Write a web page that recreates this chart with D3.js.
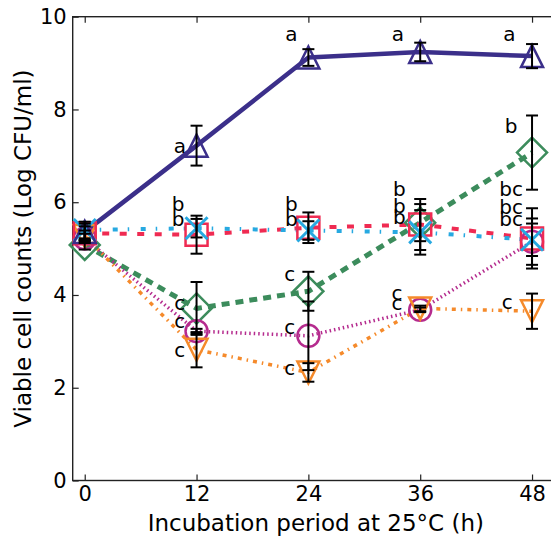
<!DOCTYPE html>
<html>
<head>
<meta charset="utf-8">
<script src="https://cdn.jsdelivr.net/npm/d3@7"></script>
<style>
  html, body { margin: 0; padding: 0; background: #fff; }
  svg { display: block; }
  text { font-family: "DejaVu Sans", sans-serif; fill: #000; }
</style>
</head>
<body>
<svg id="chart" width="551" height="537"></svg>
<script>
// ---- data ----
const hours = [0, 12, 24, 36, 48];
const xTicks = [0, 12, 24, 36, 48];
const yTicks = [0, 2, 4, 6, 8, 10];

const navyVals   = [5.36, 7.22, 9.12, 9.24, 9.15];
const navyErr    = [0.18, 0.43, 0.18, 0.20, 0.26];
const redVals    = [5.33, 5.30, 5.45, 5.52, 5.22];
const redErr     = [0.15, 0.41, 0.33, 0.55, 0.65];
const blueVals   = [5.40, 5.44, 5.39, 5.35, 5.19];
const blueErr    = [0.18, 0.20, 0.20, 0.48, 0.35];
const greenVals  = [5.08, 3.71, 4.08, 5.56, 7.07];
const greenErr   = [0.10, 0.57, 0.42, 0.40, 0.80];
const purpleVals = [5.22, 3.22, 3.12, 3.68, 5.15];
const purpleErr  = [0.10, 0.05, 0.74, 0.05, 0.50];
const orangeVals = [5.27, 2.82, 2.33, 3.71, 3.65];
const orangeErr  = [0.12, 0.38, 0.20, 0.06, 0.38];

// significance letters (x in hours, y in log CFU/ml)
const labelHours = [10.2, 22.18, 33.6, 45.57,
                    10.03, 10.03, 22.18, 22.18, 33.76, 33.76, 33.76,
                    10.2, 10.2, 10.2, 22.0, 22.0, 22.0, 33.5, 33.5,
                    45.75, 45.75, 45.75, 45.75, 45.35];
const labelVals  = [7.2, 9.61, 9.61, 9.61,
                    5.94, 5.62, 5.94, 5.62, 6.27, 5.91, 5.66,
                    3.82, 3.43, 2.81, 4.43, 3.30, 2.42, 4.04, 3.82,
                    7.63, 6.27, 5.89, 5.62, 3.83];
const labelTexts = ["a", "a", "a", "a",
                    "b", "b", "b", "b", "b", "b", "b",
                    "c", "c", "c", "c", "c", "c", "c", "c",
                    "b", "bc", "bc", "bc", "c"];

const xLabel = "Incubation period at 25°C (h)";
const yLabel = "Viable cell counts (Log CFU/ml)";

// ---- series styling (draw order) ----
const series = [
  {vals: greenVals,  err: greenErr,  color: "#3c8c5c", width: 5,   dash: "8,6",            marker: "diamond"},
  {vals: purpleVals, err: purpleErr, color: "#b52b8e", width: 3.5, dash: "1.5,3",          marker: "circle"},
  {vals: orangeVals, err: orangeErr, color: "#f58a2b", width: 3.5, dash: "4,5,1.5,5",      marker: "triDown"},
  {vals: redVals,    err: redErr,    color: "#ef2b52", width: 4,   dash: "7,10.5",         marker: "square"},
  {vals: blueVals,   err: blueErr,   color: "#27a9e1", width: 4,   dash: "5,10,1.5,11.5",  marker: "x"},
  {vals: navyVals,   err: navyErr,   color: "#3b2f8a", width: 4.5, dash: null,             marker: "triUp"}
];

// ---- layout ----
const svg = d3.select("#chart");
const pLeft = 72.7, pRight = 553, pTop = 16.7, pBottom = 480.5;
const x = d3.scaleLinear().domain([-1.29, 50.25]).range([pLeft, pRight]);
const y = d3.scaleLinear().domain([0, 10]).range([pBottom, pTop]);

// spines
svg.append("rect")
  .attr("x", pLeft).attr("y", pTop)
  .attr("width", pRight - pLeft).attr("height", pBottom - pTop)
  .attr("fill", "none").attr("stroke", "#222").attr("stroke-width", 1.4);

// axes with inward ticks
const tickLen = 6;
const xAxisB = d3.axisBottom(x).tickValues(xTicks).tickSizeInner(-tickLen).tickSizeOuter(0).tickPadding(6);
const gxb = svg.append("g").attr("transform", `translate(0,${pBottom})`).call(xAxisB);
const xAxisT = d3.axisTop(x).tickValues(xTicks).tickSizeInner(-tickLen).tickSizeOuter(0).tickFormat("");
const gxt = svg.append("g").attr("transform", `translate(0,${pTop})`).call(xAxisT);
const yAxisL = d3.axisLeft(y).tickValues(yTicks).tickSizeInner(-tickLen).tickSizeOuter(0).tickPadding(6);
const gyl = svg.append("g").attr("transform", `translate(${pLeft},0)`).call(yAxisL);
[gxb, gxt, gyl].forEach(g => {
  g.select(".domain").remove();
  g.selectAll(".tick line").attr("stroke", "#222").attr("stroke-width", 1.2);
  g.selectAll(".tick text").style("font-family", "DejaVu Sans, sans-serif").style("font-size", "21px").attr("fill", "#000");
});

// axis titles
svg.append("text")
  .attr("x", (pLeft + pRight) / 2 + 3).attr("y", 531)
  .attr("text-anchor", "middle").style("font-size", "23px")
  .text(xLabel);
svg.append("text")
  .attr("transform", `translate(31,${(pTop + pBottom) / 2}) rotate(-90)`)
  .attr("text-anchor", "middle").style("font-size", "23px")
  .text(yLabel);

// ---- lines ----
const line = d3.line().x(d => x(d[0])).y(d => y(d[1]));
series.forEach(s => {
  const pts = hours.map((h, i) => [h, s.vals[i]]);
  svg.append("path")
    .attr("d", line(pts))
    .attr("fill", "none")
    .attr("stroke", s.color)
    .attr("stroke-width", s.width)
    .attr("stroke-dasharray", s.dash)
    .attr("stroke-linejoin", "round");
});

// ---- markers ----
function markerPath(type, r) {
  switch (type) {
    case "triUp":   return `M0,${-r}L${r},${r}L${-r},${r}Z`;
    case "triDown": return `M0,${r}L${r},${-r}L${-r},${-r}Z`;
    case "square":  return `M${-r},${-r}H${r}V${r}H${-r}Z`;
    case "diamond": return `M0,${-r}L${r},0L0,${r}L${-r},0Z`;
    case "x":       return `M${-r},${-r}L${r},${r}M${r},${-r}L${-r},${r}`;
    case "circle":  return `M${r},0A${r},${r} 0 1,1 ${-r},0A${r},${r} 0 1,1 ${r},0Z`;
  }
}
const markerSize = {triUp: 11, triDown: 11, square: 11, diamond: 15, x: 11, circle: 11};
series.forEach(s => {
  svg.append("g").selectAll("path")
    .data(hours.map((h, i) => [h, s.vals[i]]))
    .join("path")
    .attr("transform", d => `translate(${x(d[0])},${y(d[1])})`)
    .attr("d", markerPath(s.marker, markerSize[s.marker]))
    .attr("fill", "none")
    .attr("stroke", s.color)
    .attr("stroke-width", s.marker === "x" ? 3 : 2.5);
});

// ---- error bars ----
const cap = 6;
series.forEach(s => {
  const g = svg.append("g").attr("stroke", "#000").attr("stroke-width", 2).attr("fill", "none");
  hours.forEach((h, i) => {
    const cx = x(h), y1 = y(s.vals[i] + s.err[i]), y0 = y(s.vals[i] - s.err[i]);
    g.append("line").attr("x1", cx).attr("x2", cx).attr("y1", y1).attr("y2", y0);
    g.append("line").attr("x1", cx - cap).attr("x2", cx + cap).attr("y1", y1).attr("y2", y1);
    g.append("line").attr("x1", cx - cap).attr("x2", cx + cap).attr("y1", y0).attr("y2", y0);
  });
});

// ---- significance letters ----
svg.append("g").selectAll("text")
  .data(labelTexts.map((t, i) => ({t, h: labelHours[i], v: labelVals[i]})))
  .join("text")
  .attr("x", d => x(d.h))
  .attr("y", d => y(d.v))
  .attr("dy", "0.32em")
  .attr("text-anchor", "middle")
  .style("font-size", "20px")
  .text(d => d.t);
</script>
</body>
</html>
